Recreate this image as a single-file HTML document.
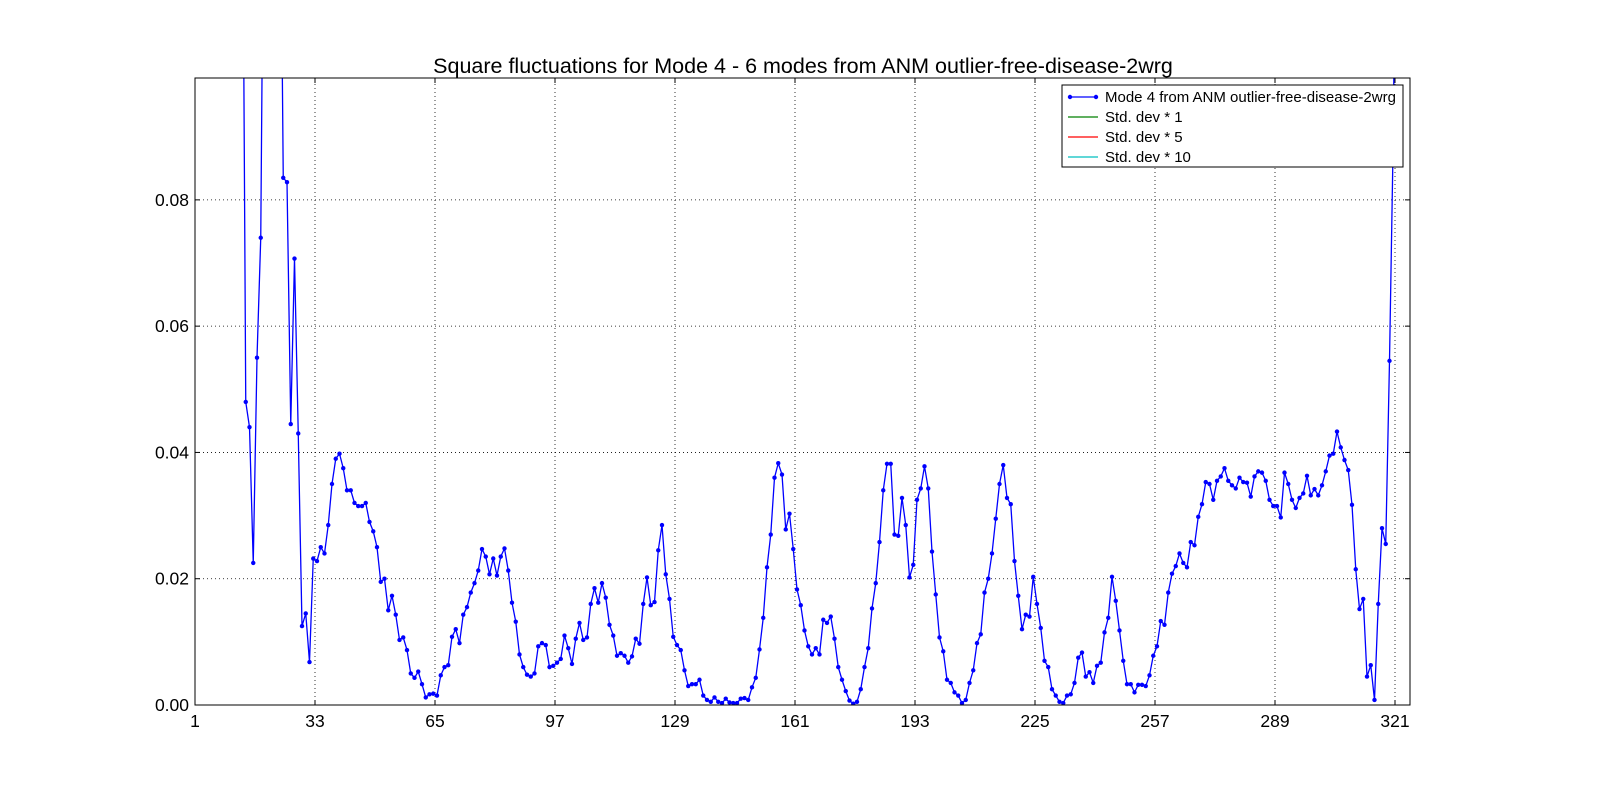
<!DOCTYPE html>
<html><head><meta charset="utf-8"><style>
body{margin:0;background:#fff;}
svg text{font-family:"Liberation Sans",sans-serif;}
</style></head><body>
<svg width="1600" height="800" viewBox="0 0 1600 800" xmlns="http://www.w3.org/2000/svg" id="svg">
<rect width="1600" height="800" fill="#fff"/>
<text x="803" y="73" font-size="21.5" text-anchor="middle">Square fluctuations for Mode 4 - 6 modes from ANM outlier-free-disease-2wrg</text>
<defs><clipPath id="clip"><rect x="195" y="78" width="1215" height="627"/></clipPath></defs>
<g id="grid"></g>
<g id="series" clip-path="url(#clip)"></g>
<rect x="195" y="78" width="1215" height="627" fill="none" stroke="#000" stroke-width="1"/>
<g id="ticks"></g>
<g>
<rect x="1062" y="85" width="341" height="82" fill="#fff" stroke="#000" stroke-width="1"/>
<line x1="1068" y1="97" x2="1098" y2="97" stroke="#0000ff" stroke-width="1.2"/>
<circle cx="1070" cy="97" r="2.2" fill="#0000ff"/><circle cx="1096" cy="97" r="2.2" fill="#0000ff"/>
<text x="1105" y="102" font-size="15">Mode 4 from ANM outlier-free-disease-2wrg</text>
<line x1="1068" y1="117" x2="1098" y2="117" stroke="#008000" stroke-width="1.2"/>
<text x="1105" y="122" font-size="15">Std. dev * 1</text>
<line x1="1068" y1="137" x2="1098" y2="137" stroke="#ff0000" stroke-width="1.2"/>
<text x="1105" y="142" font-size="15">Std. dev * 5</text>
<line x1="1068" y1="157" x2="1098" y2="157" stroke="#00bfbf" stroke-width="1.2"/>
<text x="1105" y="162" font-size="15">Std. dev * 10</text>
</g>
</svg>
<script>
const startResidue = 13;
const values = [0.15,0.048,0.044,0.0225,0.055,0.074,0.15,0.15,0.15,0.15,0.15,
0.0835,0.0828,0.0445,0.0707,0.043,0.0125,0.0145,0.0068,0.0232,0.0228,0.025,0.024,0.0285,0.035,0.039,0.0398,0.0375,0.034,0.034,0.032,0.0315,0.0315,0.032,0.029,0.0275,0.025,0.0195,0.02,0.015,0.0173,0.0143,0.0103,0.0107,0.0087,0.005,0.0043,0.0053,0.0033,0.0012,0.0017,0.0018,0.0015,0.0047,0.006,0.0063,0.0108,0.012,0.0098,0.0143,0.0155,0.0178,0.0193,0.0213,0.0247,0.0235,0.0207,0.0232,0.0205,0.0235,0.0248,0.0213,0.0162,0.0132,0.008,0.006,0.0048,0.0045,0.005,0.0093,0.0098,0.0095,0.006,0.0062,0.0067,0.0073,0.011,0.009,0.0065,0.0105,0.013,0.0103,0.0107,0.016,0.0185,0.0162,0.0193,0.017,0.0127,0.011,0.0078,0.0082,0.0078,0.0067,0.0077,0.0105,0.0097,0.016,0.0202,0.0158,0.0163,0.0245,0.0285,0.0207,0.0168,0.0108,0.0095,0.0087,0.0055,0.003,0.0033,0.0033,0.004,0.0015,0.0008,0.0005,0.0012,0.0005,0.0003,0.001,0.0004,0.0003,0.0003,0.001,0.0011,0.0008,0.0028,0.0043,0.0088,0.0138,0.0218,0.027,0.036,0.0383,0.0365,0.0278,0.0303,0.0247,0.0183,0.0158,0.0118,0.0093,0.008,0.009,0.008,0.0135,0.013,0.014,0.0105,0.006,0.004,0.0022,0.0007,0.0002,0.0005,0.0025,0.006,0.009,0.0153,0.0193,0.0258,0.034,0.0382,0.0382,0.027,0.0268,0.0328,0.0285,0.0202,0.0222,0.0325,0.0343,0.0378,0.0343,0.0243,0.0175,0.0107,0.0085,0.004,0.0035,0.002,0.0015,0.0003,0.0008,0.0035,0.0055,0.0098,0.0112,0.0178,0.02,0.024,0.0295,0.035,0.038,0.0328,0.0318,0.0228,0.0173,0.012,0.0143,0.014,0.0203,0.016,0.0122,0.007,0.006,0.0025,0.0015,0.0005,0.0003,0.0015,0.0017,0.0035,0.0075,0.0083,0.0045,0.0052,0.0035,0.0062,0.0067,0.0115,0.0138,0.0203,0.0165,0.0118,0.007,0.0033,0.0033,0.002,0.0032,0.0032,0.003,0.0047,0.0078,0.0093,0.0133,0.0127,0.0178,0.0208,0.022,0.024,0.0225,0.0218,0.0258,0.0253,0.0298,0.0318,0.0353,0.035,0.0325,0.0355,0.0362,0.0375,0.0355,0.0348,0.0343,0.036,0.0353,0.0352,0.033,0.0362,0.037,0.0368,0.0355,0.0325,0.0315,0.0315,0.0297,0.0368,0.035,0.0325,0.0312,0.0328,0.0335,0.0363,0.0332,0.0342,0.0332,0.0348,0.037,0.0395,0.0398,0.0433,0.0408,0.0388,0.0372,0.0317,0.0215,0.0152,0.0168,0.0045,0.0063,0.0008,0.016,0.028,0.0255,0.0545,0.09,0.15];
const xTicks = [1,33,65,97,129,161,193,225,257,289,321];
const yTicks = [0,0.02,0.04,0.06,0.08];
const yTickLabels = ["0.00","0.02","0.04","0.06","0.08"];

const X0=195,X1=1410,Y0=705,Y1=78,XMIN=1,XMAX=325,YMIN=0,YMAX=0.0993;
const sx=v=>X0+(v-XMIN)/(XMAX-XMIN)*(X1-X0);
const sy=v=>Y0-(v-YMIN)/(YMAX-YMIN)*(Y0-Y1);
const NS="http://www.w3.org/2000/svg";
function mk(t,a,p){const e=document.createElementNS(NS,t);for(const k in a)e.setAttribute(k,a[k]);p.appendChild(e);return e;}
const grid=document.getElementById('grid'),ticks=document.getElementById('ticks'),ser=document.getElementById('series');
xTicks.forEach(t=>{const x=sx(t);
 if(t!==XMIN){const g=mk('line',{x1:x,y1:Y0,x2:x,y2:Y1,stroke:'#000','stroke-width':0.8,'stroke-dasharray':'1,3'},grid);
 
 }
 mk('line',{x1:x,y1:Y0,x2:x,y2:Y0-5,stroke:'#000'},ticks);
 mk('line',{x1:x,y1:Y1,x2:x,y2:Y1+5,stroke:'#000'},ticks);
 const tx=mk('text',{x:x,y:Y0+22,'font-size':17.5,'text-anchor':'middle'},ticks);tx.textContent=t;
 
 
});
yTicks.forEach((t,i)=>{const y=sy(t);
 if(t!==YMIN){const g=mk('line',{x1:X0,y1:y,x2:X1,y2:y,stroke:'#000','stroke-width':0.8,'stroke-dasharray':'1,3'},grid);
 
 }
 mk('line',{x1:X0,y1:y,x2:X0+5,y2:y,stroke:'#000'},ticks);
 mk('line',{x1:X1,y1:y,x2:X1-5,y2:y,stroke:'#000'},ticks);
 const tx=mk('text',{x:X0-6,y:y+6,'font-size':17.5,'text-anchor':'end'},ticks);tx.textContent=yTickLabels[i];
 
 
});
const pts=values.map((v,i)=>[sx(startResidue+i)+2,sy(v)]);
const pl=mk('polyline',{points:pts.map(p=>p.join(',')).join(' '),fill:'none',stroke:'#0000ff','stroke-width':1.3},ser);


pts.forEach(p=>{const c=mk('circle',{cx:p[0],cy:p[1],r:2.2,fill:'#0000ff'},ser);
 
 });
</script>
</body></html>
